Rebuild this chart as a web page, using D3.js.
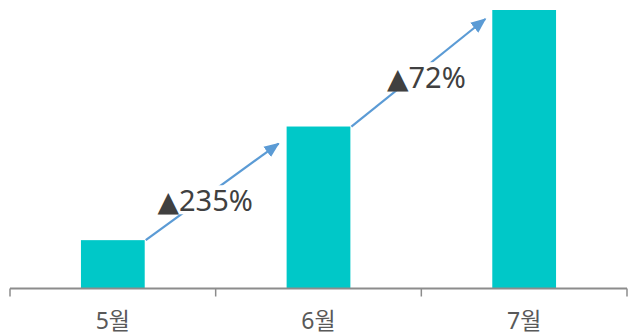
<!DOCTYPE html>
<html>
<head>
<meta charset="utf-8">
<script src="https://cdn.jsdelivr.net/npm/d3@7"></script>
<style>
  body { margin: 0; background: #fff; }
  text { font-family: "Noto Sans", "Noto Sans CJK KR", sans-serif; }
</style>
</head>
<body>
<div id="chart-area"></div>
<script>
// data
var months = ["5월", "6월", "7월"];
var values = [100, 335, 576];
var growth = ["235%", "72%"];

var width = 628;
var height = 336;
var baseY = 288.5;

var svg = d3.select("#chart-area").append("svg")
    .attr("width", width)
    .attr("height", height);

var defs = svg.append("defs");
defs.append("marker")
    .attr("id", "arrow")
    .attr("viewBox", "0 0 12 10")
    .attr("refX", 11)
    .attr("refY", 5)
    .attr("markerWidth", 7)
    .attr("markerHeight", 6)
    .attr("orient", "auto")
    .attr("markerUnits", "strokeWidth")
  .append("path")
    .attr("d", "M0,0 L12,5 L0,10 z")
    .attr("fill", "#5B9BD5");

var x = d3.scaleBand()
    .domain(months)
    .range([10, 627])
    .paddingInner(0.69)
    .paddingOuter(0.345);

var band = d3.scaleBand()
    .domain(months)
    .range([10, 627]);

var y = d3.scaleLinear()
    .domain([0, 576])
    .range([baseY, 10]);

// bars
svg.selectAll("rect.bar")
    .data(values)
    .enter()
    .append("rect")
        .attr("class", "bar")
        .attr("x", (d, i) => x(months[i]))
        .attr("y", (d) => y(d))
        .attr("width", x.bandwidth())
        .attr("height", (d) => baseY - y(d))
        .attr("fill", "#00C8C8");

// x axis
var xAxisCall = d3.axisBottom(band)
    .tickSize(0)
    .tickPadding(24);
var xAxis = svg.append("g")
    .attr("class", "x axis")
    .attr("transform", "translate(0, " + baseY + ")")
    .call(xAxisCall);

xAxis.select(".domain")
    .attr("stroke", "#8c8c8c")
    .attr("stroke-width", 2)
    .attr("d", "M10,0H627");

xAxis.selectAll(".tick text")
    .attr("fill", "#595959")
    .style("font-family", "'Noto Sans', 'Noto Sans CJK KR', sans-serif")
    .style("font-size", "23px");

// band boundary ticks
var bounds = months.map((m) => band(m)).concat([627]);
xAxis.selectAll("line.bound")
    .data(bounds)
    .enter()
    .append("line")
        .attr("class", "bound")
        .attr("x1", (d) => d)
        .attr("x2", (d) => d)
        .attr("y1", 0)
        .attr("y2", 8)
        .attr("stroke", "#8c8c8c")
        .attr("stroke-width", 1.5);

// growth arrows
var endOffsets = [[-8, 17], [-7, 9]];
var arrows = growth.map((g, i) => {
    var x1 = x(months[i]) + x.bandwidth() + 1;
    var y1 = y(values[i]);
    var x2 = x(months[i + 1]) + endOffsets[i][0];
    var y2 = y(values[i + 1]) + endOffsets[i][1];
    return { label: g, x1: x1, y1: y1, x2: x2, y2: y2 };
});

svg.selectAll("line.arrow")
    .data(arrows)
    .enter()
    .append("line")
        .attr("class", "arrow")
        .attr("x1", (d) => d.x1)
        .attr("y1", (d) => d.y1)
        .attr("x2", (d) => d.x2)
        .attr("y2", (d) => d.y2)
        .attr("stroke", "#5B9BD5")
        .attr("stroke-width", 2.2)
        .attr("marker-end", "url(#arrow)");

var labelOffsets = [[-7, 9], [8, 5]];
var labels = svg.selectAll("g.growth")
    .data(arrows)
    .enter()
    .append("g")
        .attr("class", "growth")
        .attr("transform", (d, i) => "translate(" + ((d.x1 + d.x2) / 2 + labelOffsets[i][0]) + ", " + ((d.y1 + d.y2) / 2 + labelOffsets[i][1]) + ")");

var txt = labels.append("text")
    .attr("text-anchor", "middle")
    .attr("dy", "0.36em")
    .attr("fill", "#404040")
    .style("font-size", "29px");

txt.append("tspan")
    .style("font-family", "'DejaVu Sans', sans-serif")
    .style("font-size", "28px")
    .text("▲");
txt.append("tspan")
    .text((d) => d.label);

labels.each(function() {
    var g = d3.select(this);
    var bb = g.select("text").node().getBBox();
    g.insert("rect", "text")
        .attr("x", bb.x - 4)
        .attr("y", bb.y + 5)
        .attr("width", bb.width + 8)
        .attr("height", bb.height - 10)
        .attr("fill", "#fff");
});
</script>
</body>
</html>
